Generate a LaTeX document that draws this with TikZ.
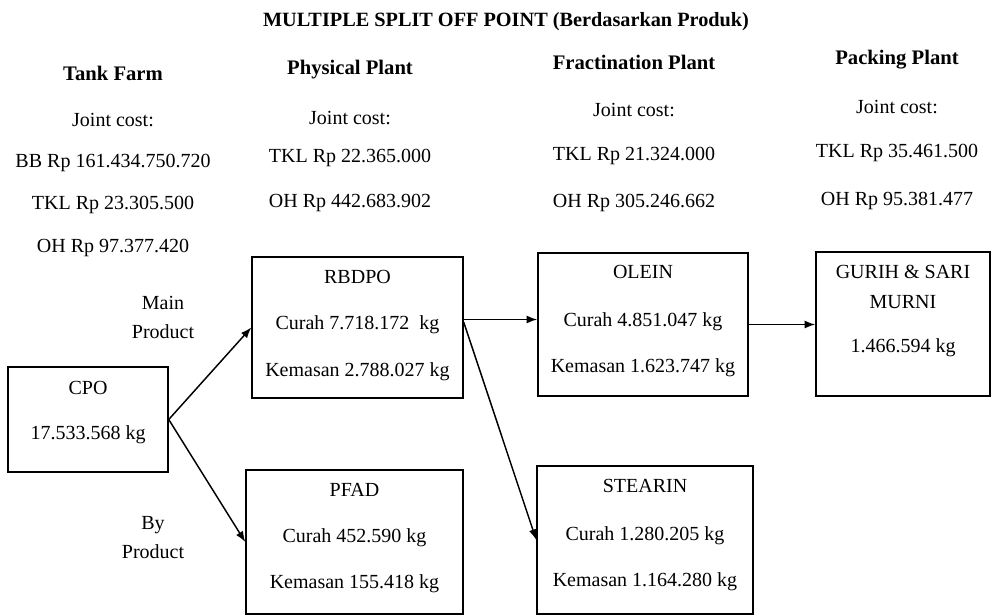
\documentclass[tikz,border=0pt]{standalone}
\usepackage{fontspec}
\setmainfont{Liberation Serif}
\usetikzlibrary{arrows.meta}
\begin{document}
\begin{tikzpicture}[x=0.75pt,y=-0.75pt,
  lbl/.style={inner sep=0pt,anchor=center,font=\fontsize{15}{17}\selectfont},
  head/.style={lbl,font=\fontsize{15.5}{17}\selectfont\bfseries},
  ttl/.style={lbl,font=\fontsize{15.2}{17}\selectfont\bfseries},
  boxnode/.style={draw,line width=1.1pt,rectangle,inner sep=0pt},
  arr/.style={line width=1.1pt,-{Latex[length=8pt,width=6pt]}}]
\useasboundingbox (0,0) rectangle (992,616);

% title
\node[ttl] (title) at (506,22) {MULTIPLE SPLIT OFF POINT (Berdasarkan Produk)};

% Tank Farm column
\node[head] (tf)    at (113,73)  {Tank Farm};
\node[lbl]  (tfjc)  at (113,120) {Joint cost:};
\node[lbl]  (tfbb)  at (113,163) {BB Rp 161.434.750.720};
\node[lbl]  (tftkl) at (113,205) {TKL Rp 23.305.500};
\node[lbl]  (tfoh)  at (113,248) {OH Rp 97.377.420};

% Physical Plant column
\node[head] (pp)    at (350,70)  {Physical Plant};
\node[lbl]  (ppjc)  at (350,118) {Joint cost:};
\node[lbl]  (pptkl) at (350,158) {TKL Rp 22.365.000};
\node[lbl]  (ppoh)  at (350,203) {OH Rp 442.683.902};

% Fractination Plant column
\node[head] (fp)    at (634,62)  {Fractination Plant};
\node[lbl]  (fpjc)  at (634,110) {Joint cost:};
\node[lbl]  (fptkl) at (634,156) {TKL Rp 21.324.000};
\node[lbl]  (fpoh)  at (634,203) {OH Rp 305.246.662};

% Packing Plant column
\node[head] (pk)    at (897,60)  {Packing Plant};
\node[lbl]  (pkjc)  at (897,107) {Joint cost:};
\node[lbl]  (pktkl) at (897,153) {TKL Rp 35.461.500};
\node[lbl]  (pkoh)  at (897,201) {OH Rp 95.381.477};

% side labels
\node[lbl] (mainl) at (163,303) {Main};
\node[lbl] (mainp) at (163,332) {Product};
\node[lbl] (byl)   at (153,525) {By};
\node[lbl] (byp)   at (153,552) {Product};

% boxes
\node[boxnode,minimum width=160pt*0.75,minimum height=105pt*0.75] (cpo)     at (88,419.5)  {};
\node[boxnode,minimum width=211pt*0.75,minimum height=141pt*0.75] (rbdpo)   at (357.5,327.5) {};
\node[boxnode,minimum width=217pt*0.75,minimum height=144pt*0.75] (pfad)    at (354.5,542) {};
\node[boxnode,minimum width=210pt*0.75,minimum height=143pt*0.75] (olein)   at (643,324.5) {};
\node[boxnode,minimum width=174pt*0.75,minimum height=144pt*0.75] (gurih)   at (903,324)   {};
\node[boxnode,minimum width=216pt*0.75,minimum height=148pt*0.75] (stearin) at (645,540)   {};

% box contents
\node[lbl] (cpo1) at (88,388) {CPO};
\node[lbl] (cpo2) at (88,435) {17.533.568 kg};

\node[lbl] (rb1) at (357.5,277) {RBDPO};
\node[lbl] (rb2) at (357.5,325) {Curah 7.718.172~~kg};
\node[lbl] (rb3) at (357.5,372) {Kemasan 2.788.027 kg};

\node[lbl] (pf1) at (354.5,490) {PFAD};
\node[lbl] (pf2) at (354.5,538) {Curah 452.590 kg};
\node[lbl] (pf3) at (354.5,584) {Kemasan 155.418 kg};

\node[lbl] (ol1) at (643,272) {OLEIN};
\node[lbl] (ol2) at (643,322) {Curah 4.851.047 kg};
\node[lbl] (ol3) at (643,368) {Kemasan 1.623.747 kg};

\node[lbl] (gu1) at (903,272) {GURIH \& SARI};
\node[lbl] (gu2) at (903,302) {MURNI};
\node[lbl] (gu3) at (903,348) {1.466.594 kg};

\node[lbl] (st1) at (645,486) {STEARIN};
\node[lbl] (st2) at (645,536) {Curah 1.280.205 kg};
\node[lbl] (st3) at (645,582) {Kemasan 1.164.280 kg};

% connectors
\draw[arr] (cpo.east) -- (rbdpo.west);
\draw[arr] (cpo.east) -- (pfad.west);
\draw[arr] ([yshift=6pt]rbdpo.east) -- ([yshift=6pt]rbdpo.east -| olein.west);
\draw[arr] ([yshift=4pt]rbdpo.east) -- (stearin.west);
\draw[arr] (olein.east) -- (olein.east -| gurih.west);
\end{tikzpicture}
\end{document}
